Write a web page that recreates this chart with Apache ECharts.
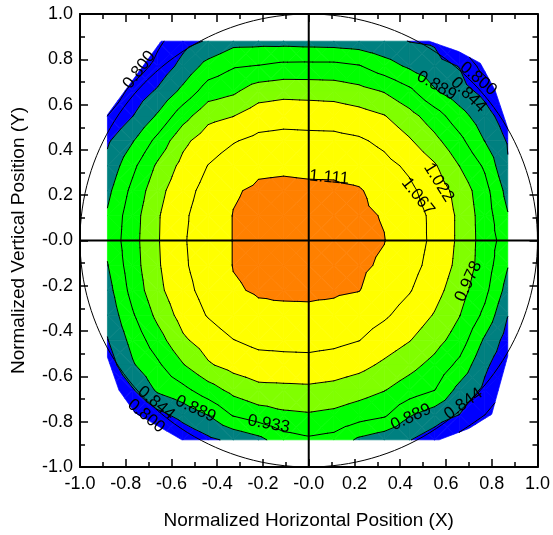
<!DOCTYPE html>
<html>
<head>
<meta charset="utf-8">
<script src="https://cdn.jsdelivr.net/npm/echarts/dist/echarts.min.js"></script>
<style>
html, body { margin: 0; padding: 0; background: #fff; }
#chart { width: 553px; height: 535px; }
</style>
</head>
<body>
<div id="chart"></div>
<script>
const fontFamily = '"Liberation Sans", Arial, Helvetica, sans-serif'

// grid positions of the measured values (x left->right, y top->bottom)
const xCoords = [-0.88, -0.77, -0.66, -0.55, -0.44, -0.33, -0.22, -0.11, 0, 0.11, 0.22, 0.33, 0.44, 0.55, 0.66, 0.77, 0.88]
const yCoords = [0.88, 0.77, 0.66, 0.55, 0.44, 0.33, 0.22, 0.11, 0, -0.11, -0.22, -0.33, -0.44, -0.55, -0.66, -0.77, -0.88]

// normalized values, one row per yCoords entry
const gridValues = [
	[0.68, 0.73, 0.79, 0.83, 0.848, 0.875, 0.876, 0.875, 0.872, 0.87, 0.865, 0.855, 0.843, 0.838, 0.78, 0.74, 0.70],
	[0.72, 0.77, 0.815, 0.858, 0.905, 0.929, 0.935, 0.944, 0.945, 0.945, 0.936, 0.908, 0.882, 0.862, 0.842, 0.78, 0.74],
	[0.76, 0.815, 0.85, 0.90, 0.955, 0.97, 1.001, 1.008, 1.006, 1.003, 0.992, 0.975, 0.943, 0.893, 0.862, 0.83, 0.78],
	[0.80, 0.843, 0.895, 0.96, 1.009, 1.021, 1.045, 1.05, 1.049, 1.048, 1.039, 1.024, 0.993, 0.954, 0.906, 0.862, 0.815],
	[0.838, 0.886, 0.947, 1.011, 1.046, 1.064, 1.078, 1.082, 1.08, 1.079, 1.073, 1.057, 1.027, 0.99, 0.945, 0.888, 0.835],
	[0.857, 0.922, 0.986, 1.035, 1.068, 1.089, 1.105, 1.106, 1.104, 1.103, 1.095, 1.08, 1.059, 1.027, 0.977, 0.926, 0.84],
	[0.878, 0.945, 1.008, 1.051, 1.082, 1.108, 1.116, 1.118, 1.117, 1.117, 1.114, 1.097, 1.076, 1.046, 1.006, 0.949, 0.866],
	[0.894, 0.959, 1.018, 1.06, 1.089, 1.112, 1.119, 1.125, 1.126, 1.124, 1.117, 1.109, 1.085, 1.058, 1.013, 0.956, 0.885],
	[0.90, 0.962, 1.019, 1.063, 1.089, 1.112, 1.119, 1.127, 1.135, 1.127, 1.119, 1.112, 1.087, 1.058, 1.013, 0.958, 0.905],
	[0.887, 0.959, 1.017, 1.061, 1.088, 1.112, 1.117, 1.124, 1.126, 1.124, 1.117, 1.106, 1.082, 1.052, 1.009, 0.957, 0.884],
	[0.872, 0.949, 1.011, 1.053, 1.083, 1.108, 1.114, 1.117, 1.117, 1.116, 1.112, 1.091, 1.07, 1.038, 0.996, 0.945, 0.865],
	[0.857, 0.928, 0.99, 1.039, 1.07, 1.094, 1.104, 1.103, 1.104, 1.10, 1.088, 1.073, 1.049, 1.019, 0.979, 0.922, 0.838],
	[0.842, 0.904, 0.959, 1.015, 1.043, 1.066, 1.079, 1.08, 1.082, 1.078, 1.068, 1.046, 1.024, 0.995, 0.957, 0.882, 0.82],
	[0.82, 0.884, 0.925, 0.975, 1.017, 1.037, 1.048, 1.052, 1.052, 1.046, 1.035, 1.014, 0.992, 0.964, 0.921, 0.852, 0.81],
	[0.79, 0.84, 0.897, 0.92, 0.958, 0.991, 1.01, 1.011, 1.013, 1.008, 0.996, 0.98, 0.956, 0.934, 0.874, 0.835, 0.79],
	[0.75, 0.79, 0.83, 0.86, 0.89, 0.937, 0.957, 0.97, 0.974, 0.968, 0.954, 0.94, 0.893, 0.867, 0.843, 0.80, 0.76],
	[0.69, 0.73, 0.77, 0.81, 0.835, 0.854, 0.876, 0.915, 0.926, 0.918, 0.881, 0.863, 0.846, 0.82, 0.78, 0.74, 0.70]
]

// contour levels and the fill of each band (below first level ... above last level)
const levels = [0.800, 0.844, 0.889, 0.933, 0.978, 1.022, 1.067, 1.111]
const bandColors = ['#0000ff', '#0000ff', '#008080', '#00ff00', '#00ff00', '#80ff00', '#ffff00', '#ffff00', '#ff8000']

// outline of the measured region (clockwise)
const dataBoundary = [
	[-0.645, 0.88], [0.526, 0.88], [0.656, 0.834], [0.75, 0.783], [0.814, 0.665], [0.87, 0.496],
	[0.87, -0.51], [0.80, -0.767], [0.70, -0.83], [0.57, -0.88], [-0.555, -0.88],
	[-0.76, -0.76], [-0.83, -0.66], [-0.88, -0.515], [-0.88, 0.555]
]

const tickLabels = ['-1.0', '-0.8', '-0.6', '-0.4', '-0.2', '-0.0', '0.2', '0.4', '0.6', '0.8', '1.0']

// contour labels
const labelText = ['0.800', '1.111', '1.022', '1.067', '0.889', '0.844', '0.800', '0.978', '0.889', '0.844', '0.933', '0.889', '0.844', '0.800']
const labelX = [-0.741, 0.089, 0.568, 0.477, 0.559, 0.698, 0.741, 0.698, 0.447, 0.676, -0.175, -0.495, -0.667, -0.711]
const labelY = [0.753, 0.278, 0.256, 0.194, 0.683, 0.643, 0.714, -0.181, -0.780, -0.722, -0.811, -0.744, -0.718, -0.775]
const labelAngle = [53, -5, -58, -52, -30, -45, -40, 65, 25, 35, -10, -25, -40, -40]

function lerp(p, q, t) {
	return [p[0] + (q[0] - p[0]) * t, p[1] + (q[1] - p[1]) * t, p[2] + (q[2] - p[2]) * t]
}

// keep the part of a convex polygon where f(p) >= 0
function clipPoly(poly, f) {
	const out = []
	for (let i = 0; i < poly.length; i++) {
		const p = poly[i]
		const q = poly[(i + 1) % poly.length]
		const fp = f(p)
		const fq = f(q)
		if (fp >= 0) out.push(p)
		if ((fp >= 0) !== (fq >= 0)) out.push(lerp(p, q, fp / (fp - fq)))
	}
	return out
}

// triangles of every cell, cut to the measured region
const pieces = []
for (let r = 0; r < yCoords.length - 1; r++) {
	for (let c = 0; c < xCoords.length - 1; c++) {
		const tl = [xCoords[c], yCoords[r], gridValues[r][c]]
		const tr = [xCoords[c + 1], yCoords[r], gridValues[r][c + 1]]
		const br = [xCoords[c + 1], yCoords[r + 1], gridValues[r + 1][c + 1]]
		const bl = [xCoords[c], yCoords[r + 1], gridValues[r + 1][c]]
		const mid = [(tl[0] + tr[0]) / 2, (tl[1] + bl[1]) / 2, (tl[2] + tr[2] + br[2] + bl[2]) / 4]
		const tris = [[tl, tr, mid], [tr, br, mid], [br, bl, mid], [bl, tl, mid]]
		tris.forEach(tri => {
			let poly = tri
			for (let k = 0; k < dataBoundary.length && poly.length >= 3; k++) {
				const a = dataBoundary[k]
				const b = dataBoundary[(k + 1) % dataBoundary.length]
				poly = clipPoly(poly, p => -((b[0] - a[0]) * (p[1] - a[1]) - (b[1] - a[1]) * (p[0] - a[0])))
			}
			if (poly.length >= 3) pieces.push(poly)
		})
	}
}

// filled bands
const bandPolys = []
pieces.forEach(poly => {
	for (let k = 0; k <= levels.length; k++) {
		let part = poly
		if (k > 0) part = clipPoly(part, p => p[2] - levels[k - 1])
		if (part.length >= 3 && k < levels.length) part = clipPoly(part, p => levels[k] - p[2])
		if (part.length >= 3) bandPolys.push({ color: bandColors[k], pts: part })
	}
})

// contour segments
const segments = []
pieces.forEach(poly => {
	levels.forEach(L => {
		const pts = []
		for (let i = 0; i < poly.length; i++) {
			const p = poly[i]
			const q = poly[(i + 1) % poly.length]
			if ((p[2] >= L) !== (q[2] >= L)) pts.push(lerp(p, q, (L - p[2]) / (q[2] - p[2])))
		}
		if (pts.length === 2) segments.push(pts)
	})
})

const axisCommon = {
	type: 'value',
	min: -1,
	max: 1,
	interval: 0.2,
	axisLine: { onZero: false, lineStyle: { color: '#000', width: 2 } },
	axisTick: { inside: true, length: 8, lineStyle: { color: '#000', width: 1.5 } },
	minorTick: { show: true, splitNumber: 2, length: 5, lineStyle: { color: '#000', width: 1.5 } },
	splitLine: { show: false },
	axisLabel: {
		color: '#000',
		fontSize: 18,
		fontFamily: fontFamily,
		formatter: v => tickLabels[Math.round((v + 1) / 0.2)]
	}
}

const myChart = echarts.init(document.getElementById('chart'), null, { renderer: 'canvas' })

const option = {
	animation: false,
	grid: { left: 80, right: 10, top: 14, bottom: 67 },
	xAxis: [
		Object.assign({}, axisCommon, {
			position: 'bottom',
			axisLabel: Object.assign({}, axisCommon.axisLabel, { margin: 8 }),
			name: 'Normalized Horizontal Position (X)',
			nameLocation: 'middle',
			nameGap: 44,
			nameTextStyle: { color: '#000', fontSize: 19, fontFamily: fontFamily }
		}),
		Object.assign({}, axisCommon, { position: 'top', axisLabel: { show: false } })
	],
	yAxis: [
		Object.assign({}, axisCommon, {
			position: 'left',
			axisLabel: Object.assign({}, axisCommon.axisLabel, { margin: 7 }),
			name: 'Normalized Vertical Position (Y)',
			nameLocation: 'middle',
			nameGap: 52,
			nameTextStyle: { color: '#000', fontSize: 19, fontFamily: fontFamily }
		}),
		Object.assign({}, axisCommon, { position: 'right', axisLabel: { show: false } })
	],
	series: [
		{
			type: 'custom',
			silent: true,
			clip: true,
			xAxisIndex: 0,
			yAxisIndex: 0,
			data: [[0, 0]],
			renderItem: function (params, api) {
				const children = []
				bandPolys.forEach(bp => {
					children.push({
						type: 'polygon',
						shape: { points: bp.pts.map(p => api.coord([p[0], p[1]])) },
						style: { fill: bp.color, stroke: bp.color, lineWidth: 0.7 }
					})
				})
				segments.forEach(s => {
					const a = api.coord([s[0][0], s[0][1]])
					const b = api.coord([s[1][0], s[1][1]])
					children.push({
						type: 'line',
						shape: { x1: a[0], y1: a[1], x2: b[0], y2: b[1] },
						style: { stroke: '#000', lineWidth: 1, lineCap: 'round' }
					})
				})
				// unit circle
				const circle = []
				for (let d = 0; d <= 360; d += 2) {
					const t = d * Math.PI / 180
					circle.push(api.coord([Math.cos(t), Math.sin(t)]))
				}
				children.push({ type: 'polyline', shape: { points: circle }, style: { stroke: '#000', lineWidth: 1, fill: null } })
				// centre lines
				const v0 = api.coord([0, -1]), v1 = api.coord([0, 1])
				const h0 = api.coord([-1, 0]), h1 = api.coord([1, 0])
				children.push({ type: 'line', shape: { x1: v0[0], y1: v0[1], x2: v1[0], y2: v1[1] }, style: { stroke: '#000', lineWidth: 2 } })
				children.push({ type: 'line', shape: { x1: h0[0], y1: h0[1], x2: h1[0], y2: h1[1] }, style: { stroke: '#000', lineWidth: 2 } })
				return { type: 'group', children: children }
			}
		},
		{
			type: 'custom',
			silent: true,
			xAxisIndex: 0,
			yAxisIndex: 0,
			z: 5,
			data: labelX.map((x, i) => [x, labelY[i], labelAngle[i]]),
			renderItem: function (params, api) {
				const pt = api.coord([api.value(0), api.value(1)])
				return {
					type: 'text',
					x: pt[0],
					y: pt[1],
					rotation: api.value(2) * Math.PI / 180,
					style: {
						text: labelText[params.dataIndex],
						fill: '#000',
						fontSize: 17,
						fontFamily: fontFamily,
						align: 'center',
						verticalAlign: 'middle'
					}
				}
			}
		}
	]
}

myChart.setOption(option)
</script>
</body>
</html>
